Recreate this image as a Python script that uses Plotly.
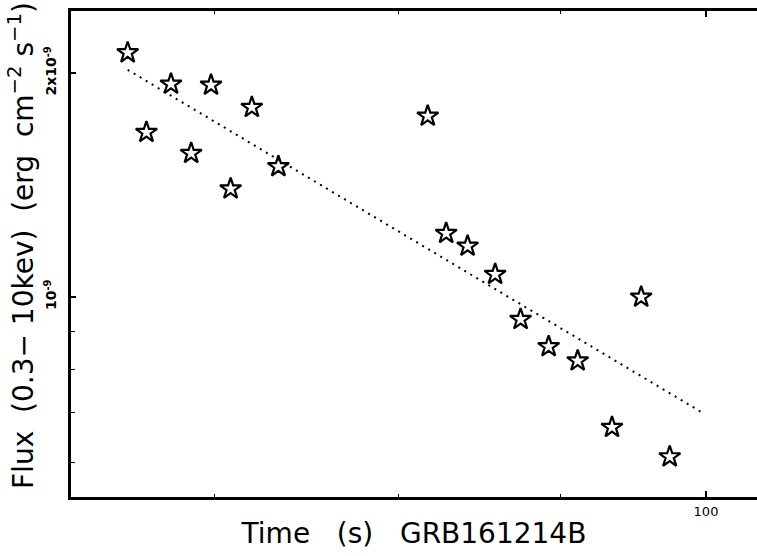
import plotly.graph_objects as go

# Data
time_s = [65.7, 66.6, 67.8, 68.8, 69.8, 70.8, 71.9, 73.3, 81.7, 82.8,
          84.1, 85.8, 87.4, 89.2, 91.1, 93.4, 95.4, 97.4]
flux = [2.13e-9, 1.665e-9, 1.933e-9, 1.56e-9, 1.927e-9, 1.398e-9, 1.799e-9,
        1.497e-9, 1.751e-9, 1.218e-9, 1.171e-9, 1.073e-9, 0.933e-9, 0.858e-9,
        0.821e-9, 0.668e-9, 1.0e-9, 0.610e-9]
fit_time = [65.7, 99.8]
fit_flux = [2.02e-9, 0.698e-9]

x_major = [100]
x_major_text = ["100"]
x_minor = [70, 80, 90]
y_major = [1e-9, 2e-9]
y_major_text = ["<b>10<sup>-9</sup></b>", "<b>2x10<sup>-9</sup></b>"]
y_minor = [6e-10, 7e-10, 8e-10, 9e-10]

FONT = "DejaVu Sans"
XRANGE = [1.79968, 2.01609]
YRANGE = [-9.2688, -8.6156]
PLOT_W, PLOT_H = 686, 486

fig = go.Figure()
fig.add_trace(go.Scatter(
    x=fit_time, y=fit_flux, mode="lines",
    line=dict(color="black", width=2, dash="2px,5px"),
    showlegend=False, hoverinfo="skip"))
fig.add_trace(go.Scatter(
    x=time_s, y=flux, mode="markers",
    marker=dict(symbol="star-open", size=16, color="black", line=dict(width=2.2)),
    showlegend=False))

fig.update_layout(
    width=757, height=556,
    margin=dict(l=71, r=0, t=11, b=59),
    paper_bgcolor="white", plot_bgcolor="white",
    font=dict(family=FONT, color="black"),
    xaxis=dict(
        type="log", range=XRANGE,
        showgrid=False, zeroline=False,
        showline=True, linecolor="black", linewidth=3, mirror="ticks",
        ticks="inside", ticklen=6, tickwidth=1.5, tickcolor="black",
        tickmode="array", tickvals=x_major, ticktext=x_major_text,
        tickfont=dict(size=13, family=FONT, color="black"),
        minor=dict(tickmode="array", tickvals=x_minor, ticks="inside",
                   ticklen=3, tickwidth=1, tickcolor="black", showgrid=False),
        title=dict(text="Time&nbsp;&nbsp;&nbsp;(s)&nbsp;&nbsp;&nbsp;GRB161214B",
                   font=dict(size=28, family=FONT, color="black"), standoff=6),
    ),
    yaxis=dict(
        type="log", range=YRANGE,
        showgrid=False, zeroline=False,
        showline=True, linecolor="black", linewidth=3, mirror=False,
        ticks="inside", ticklen=5, tickwidth=1.5, tickcolor="black",
        tickmode="array", tickvals=y_major, ticktext=y_major_text,
        tickangle=-90, ticklabelstandoff=6,
        tickfont=dict(size=14, family=FONT, color="black"),
        minor=dict(tickmode="array", tickvals=y_minor, ticks="inside",
                   ticklen=4, tickwidth=1, tickcolor="black", showgrid=False),
    ),
    annotations=[dict(
        text="Flux&nbsp;&nbsp;(0.3−&nbsp;10kev)&nbsp;&nbsp;(erg&nbsp;&nbsp;cm<sup>−2</sup>&nbsp;s<sup>−1</sup>)",
        xref="paper", yref="paper", x=(22 - 71) / PLOT_W, y=(497 - 246) / PLOT_H,
        xanchor="center", yanchor="middle", textangle=-90, showarrow=False,
        font=dict(size=28, family=FONT, color="black"))],
)

fig.write_html("out.html", config={"staticPlot": True, "displayModeBar": False})
